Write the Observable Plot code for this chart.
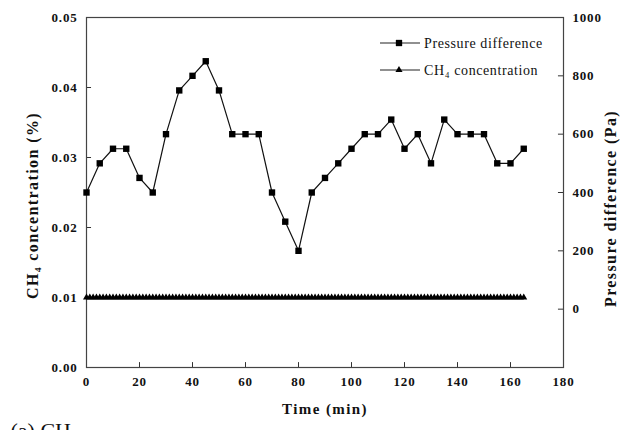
<!DOCTYPE html>
<html><head>
<meta charset="utf-8">
<script src="https://cdn.jsdelivr.net/npm/d3@7"></script>
<script src="https://cdn.jsdelivr.net/npm/@observablehq/plot@0.6"></script>
<style>
body{margin:0;background:#fff;}
#wrap{position:relative;width:621px;height:430px;overflow:hidden;background:#fff;}
#wrap svg g[aria-label="x-axis tick label"] text, #wrap svg g[aria-label="y-axis tick label"] text{letter-spacing:0.8px;}
</style></head><body><div id="wrap"></div>
<script>
const time = [0,5,10,15,20,25,30,35,40,45,50,55,60,65,70,75,80,85,90,95,100,105,110,115,120,125,130,135,140,145,150,155,160,165];
const pressure = [400,500,550,550,450,400,600,750,800,850,750,600,600,600,400,300,200,400,450,500,550,600,600,650,550,600,500,650,600,600,600,500,500,550];
const ch4Time = d3.range(0, 165.01, 1.25);
const ch4 = ch4Time.map(() => 0.01);
const xTicks = [0,20,40,60,80,100,120,140,160,180];
const leftTicks = [0,0.01,0.02,0.03,0.04,0.05];
const rightTicks = [0,200,400,600,800,1000];
const rightDomain = [-200,1000];
const leftDomain = [0,0.05];
const toLeft = p => (p - rightDomain[0]) / (rightDomain[1] - rightDomain[0]) * leftDomain[1];
const toRight = v => v / leftDomain[1] * (rightDomain[1] - rightDomain[0]) + rightDomain[0];

const pData = time.map((t,i) => ({t, v: toLeft(pressure[i])}));
const cData = ch4Time.map((t,i) => ({t, v: ch4[i]}));

const plot = Plot.plot({
  width: 621, height: 430,
  marginLeft: 86, marginRight: 58, marginTop: 17, marginBottom: 63,
  style: {fontFamily: "Liberation Serif", fontWeight: "bold", fontSize: "13px", background: "#fff", color: "#111"},
  x: {domain: [0,180]},
  y: {domain: leftDomain},
  marks: [
    Plot.axisX(xTicks, {tickSize: 0, tickPadding: 9, label: null}),
    Plot.axisY(leftTicks, {anchor: "left", tickSize: 0, tickPadding: 9, tickFormat: d3.format(".2f"), label: null}),
    Plot.axisY(rightTicks.map(toLeft), {anchor: "right", tickSize: 0, tickPadding: 9, tickFormat: d => String(Math.round(toRight(d))), label: null}),
    Plot.ruleX(xTicks.slice(1,-1), {x: d => d, y1: 0, y2: 0.0007, stroke: "#333"}),
    Plot.ruleY(leftTicks.slice(1,-1), {y: d => d, x1: 0, x2: 1.9, stroke: "#333"}),
    Plot.ruleY(rightTicks, {y: d => toLeft(d), x1: 178.1, x2: 180, stroke: "#333"}),
    Plot.frame({stroke: "#444", strokeWidth: 1.2}),
    Plot.line(cData, {x: "t", y: "v", stroke: "#000", strokeWidth: 1.5}),
    Plot.dot(cData, {x: "t", y: "v", symbol: "triangle", r: 2.6, fill: "#000", stroke: "none"}),
    Plot.line(pData, {x: "t", y: "v", stroke: "#111", strokeWidth: 1.2}),
    Plot.dot(pData, {x: "t", y: "v", symbol: "square", r: 3.6, fill: "#000", stroke: "none"}),
    Plot.text(["Time (min)"], {frameAnchor: "bottom", dy: 42, textAnchor: "middle", lineAnchor: "middle", fontSize: 15, fontWeight: "bold"}),
    Plot.text(["CH\u2084 concentration (%)"], {frameAnchor: "left", dx: -54, dy: 13, rotate: -90, textAnchor: "middle", lineAnchor: "middle", fontSize: 16, fontWeight: "bold"}),
    Plot.text(["Pressure difference (Pa)"], {frameAnchor: "right", dx: 47, dy: 16, rotate: -90, textAnchor: "middle", lineAnchor: "middle", fontSize: 16, fontWeight: "bold"}),
    Plot.text(["(a) CH\u2084"], {frameAnchor: "bottom-left", dx: -76, dy: 70, textAnchor: "start", lineAnchor: "bottom", fontSize: 22, fontWeight: "normal"})
  ]
});

// letter spacing on axis titles to match the wide scanned lettering
d3.select(plot).selectAll("text").filter(function(){
  const t = this.textContent;
  return t === "Time (min)" || t === "CH\u2084 concentration (%)" || t === "Pressure difference (Pa)";
}).style("letter-spacing", "1.4px");

// Legend
const svg = d3.select(plot);
const legendItems = [
  {label: "Pressure difference", symbol: d3.symbolSquare, size: 40, y: 43},
  {label: "CH\u2084 concentration", symbol: d3.symbolTriangle, size: 22, y: 70}
];
const lg = svg.append("g").attr("font-family", "Liberation Serif").attr("font-size", 14).attr("font-weight", "normal").attr("text-anchor", "start");
legendItems.forEach(it => {
  lg.append("line").attr("x1", 380).attr("x2", 420).attr("y1", it.y).attr("y2", it.y).attr("stroke", "#222").attr("stroke-width", 1.2);
  lg.append("path").attr("d", d3.symbol(it.symbol, it.size)()).attr("transform", `translate(399,${it.y})`).attr("fill", "#000");
  lg.append("text").attr("x", 424).attr("y", it.y).attr("dy", "0.35em").attr("text-anchor", "start").attr("fill", "#111").style("letter-spacing", "0.6px").text(it.label);
});

document.getElementById("wrap").appendChild(plot);
</script>
</body></html>
